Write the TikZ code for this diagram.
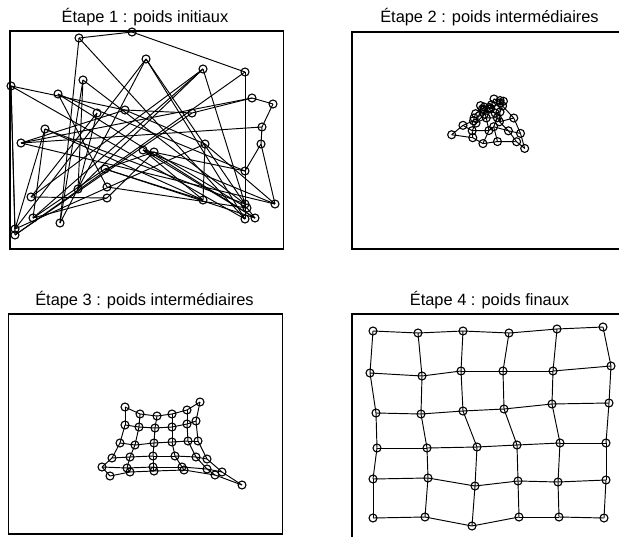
\documentclass[tikz,border=0pt]{standalone}
\usepackage{fontspec}
\setmainfont{Liberation Sans}
\usepackage{tikz}

\tikzset{
    neuron/.style={draw, circle, inner sep=0pt, minimum size=8pt, line width=1.1pt},
    wire/.style={line width=0.95pt},
    frame/.style={line width=1.3pt},
    title/.style={anchor=base, font=\fontsize{16.4}{19}\selectfont}
}

\begin{document}
\begin{tikzpicture}[x=1pt, y=-1pt]
        \clip (0, 0) rectangle (619, 536);
        \fill[white] (0, 0) rectangle (619, 536);

        % titres
        \node[title] (t1) at (145, 22.7) {Étape 1 : poids initiaux};
        \node[title] (t2) at (489.5, 22.7) {Étape 2 : poids intermédiaires};
        \node[title] (t3) at (144.5, 305) {Étape 3 : poids intermédiaires};
        \node[title] (t4) at (489.5, 305) {Étape 4 : poids finaux};

        % cadres
        \draw[frame] (10, 31) rectangle (283.5, 249);
        \draw[frame] (352, 32) rectangle (640, 249);
        \draw[frame] (8.5, 314) rectangle (282.7, 534);
        \draw[frame] (352, 314) rectangle (640, 560);

        % etape 1
        \foreach \x/\y [count=\k] in {132/32, 245/72, 15/235, 192/113, 252/98, 273/104,
                                       79/38, 245/219, 11/86, 125/110, 21/143, 262/127,
                                       60/223, 146/59, 15/229, 205/144, 275/204, 261/144,
                                       83/80, 245/204, 45/129, 203/200, 143/150, 245/171,
                                       78/189, 203/69, 33/218, 105/169, 255/218, 58/94,
                                       97/113, 31/197, 107/198, 154/152, 247/208, 107/187}
            \node[neuron] (a\k) at (\x, \y) {};

        % etape 2
        \foreach \r in {0,...,5} {
            \foreach \c in {0,...,5} {
                \pgfmathtruncatemacro\k{6*\r + \c + 1}
                \pgfmathsetmacro\u{\c/5}
                \pgfmathsetmacro\v{(\r/5)^1.8}
                \pgfmathsetmacro\px{480 + 20*\u + \v*((455 + 73*\u) - (480 + 20*\u)) + 3.5*sin(137*\k)}
                \pgfmathsetmacro\py{110 - 10*\u + \v*((137 + 9*\u) - (110 - 10*\u)) + 3*cos(251*\k)}
                \node[neuron] (b\k) at (\px, \py) {};
            }
        }

        % etape 3
        \foreach \x/\y [count=\k] in {125/407, 140/414, 157/416, 172/414, 187/410, 200/402,
                                       125/425, 139/427, 155/428, 172/427, 187/424, 196/421,
                                       120/443, 135/445, 154/443, 172/442, 188/441, 198/441,
                                       112/458, 130/457, 153/456, 175/456, 196/457, 207/459,
                                       102/467, 127/468, 153/467, 182/467, 207/469, 222/472,
                                       110/476, 130/472, 154/471, 184/470, 215/475, 242/485}
            \node[neuron] (c\k) at (\x, \y) {};

        % etape 4
        \foreach \x/\y [count=\k] in {373/331, 418/333, 463/331, 509/333, 557/329, 603/327,
                                       370/373, 422/376, 461/371, 503/371, 553/371, 611/366,
                                       376/413, 421/414, 463/411, 504/409, 552/404, 609/403,
                                       377/448, 427/448, 477/447, 517/445, 560/443, 606/443,
                                       373/479, 428/478, 475/486, 518/481, 558/482, 606/480,
                                       373/518, 425/517, 472/526, 519/517, 559/517, 604/518}
            \node[neuron] (d\k) at (\x, \y) {};

        % liaisons de la grille 6 x 6
        \foreach \g in {a, b, c, d} {
            \foreach \k in {1,...,36} {
                \pgfmathtruncatemacro\m{mod(\k, 6)}
                \pgfmathtruncatemacro\e{\k + 1}
                \pgfmathtruncatemacro\s{\k + 6}
                \ifnum\m>0 \draw[wire] (\g\k.center) -- (\g\e.center); \fi
                \ifnum\k<31 \draw[wire] (\g\k.center) -- (\g\s.center); \fi
            }
        }
    \end{tikzpicture}
\end{document}
